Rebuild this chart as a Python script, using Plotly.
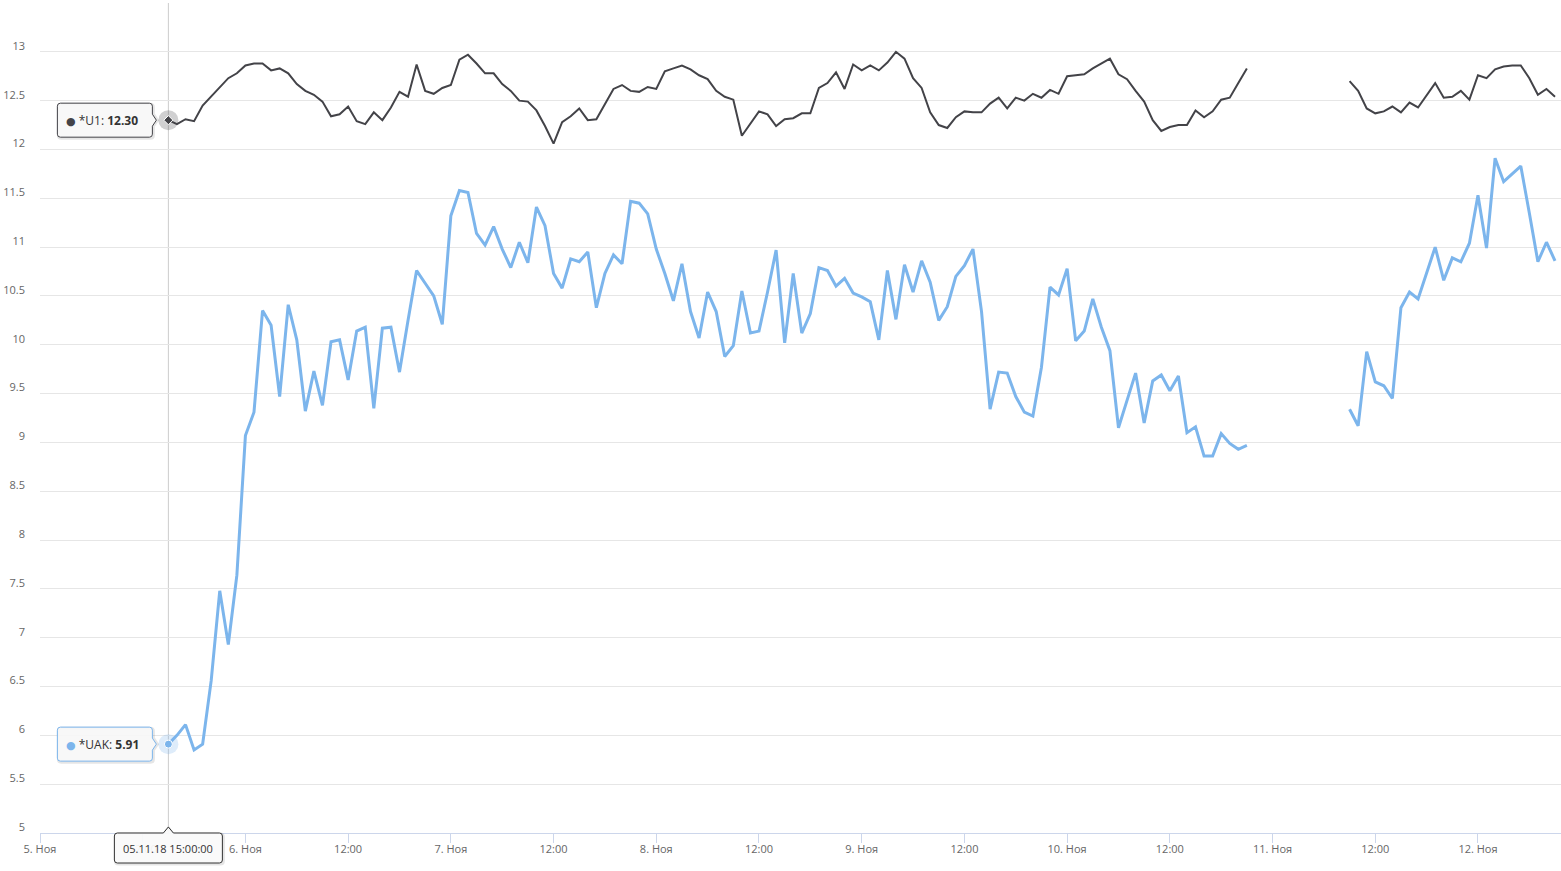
import pandas as pd
import plotly.graph_objects as go

# ---------------- data ----------------
start_time = "2018-11-05 15:00"
n_hours = 163  # hourly readings, 5 Nov 15:00 .. 12 Nov 09:00

u1_values = [
    12.30, 12.26, 12.31, 12.29, 12.45, 12.54, 12.63, 12.73, 12.78, 12.86,
    12.88, 12.88, 12.81, 12.83, 12.78, 12.67, 12.60, 12.56, 12.49, 12.34,
    12.36, 12.44, 12.29, 12.26, 12.38, 12.30, 12.43, 12.59, 12.54, 12.87,
    12.60, 12.57, 12.63, 12.66, 12.92, 12.97, 12.88, 12.78, 12.78, 12.67,
    12.60, 12.50, 12.49, 12.40, 12.24, 12.06, 12.28, 12.34, 12.42, 12.30,
    12.31, 12.46, 12.62, 12.66, 12.60, 12.59, 12.64, 12.62, 12.80, 12.83,
    12.86, 12.82, 12.76, 12.72, 12.60, 12.54, 12.51, 12.14, 12.27, 12.39,
    12.36, 12.24, 12.31, 12.32, 12.37, 12.37, 12.63, 12.68, 12.79, 12.62,
    12.87, 12.81, 12.86, 12.81, 12.89, 13.00, 12.93, 12.73, 12.63, 12.38,
    12.25, 12.22, 12.33, 12.39, 12.38, 12.38, 12.47, 12.53, 12.42, 12.53,
    12.50, 12.57, 12.53, 12.61, 12.57, 12.75, 12.76, 12.77, 12.83, 12.88,
    12.93, 12.77, 12.72, 12.60, 12.49, 12.30, 12.19, 12.23, 12.25, 12.25,
    12.40, 12.33, 12.39, 12.51, 12.53, 12.68, 12.83,
    None, None, None, None, None, None, None, None, None, None, None,
    12.70, 12.60, 12.42, 12.37, 12.39, 12.44, 12.38, 12.48, 12.43, 12.55,
    12.68, 12.53, 12.54, 12.60, 12.51, 12.76, 12.73, 12.82, 12.85, 12.86,
    12.86, 12.73, 12.56, 12.62, 12.54,
]

uak_values = [
    5.91, 6.00, 6.11, 5.85, 5.91, 6.56, 7.48, 6.93, 7.64, 9.07,
    9.31, 10.35, 10.20, 9.47, 10.41, 10.05, 9.32, 9.73, 9.38, 10.03,
    10.05, 9.64, 10.14, 10.18, 9.35, 10.17, 10.18, 9.72, 10.25, 10.76,
    10.63, 10.50, 10.21, 11.32, 11.58, 11.56, 11.14, 11.02, 11.21, 10.98,
    10.79, 11.05, 10.84, 11.41, 11.22, 10.73, 10.58, 10.88, 10.85, 10.95,
    10.38, 10.73, 10.92, 10.83, 11.47, 11.45, 11.34, 10.98, 10.73, 10.45,
    10.83, 10.34, 10.07, 10.54, 10.34, 9.88, 9.99, 10.55, 10.12, 10.14,
    10.54, 10.97, 10.02, 10.73, 10.12, 10.32, 10.79, 10.76, 10.60, 10.68,
    10.53, 10.49, 10.44, 10.05, 10.76, 10.26, 10.82, 10.54, 10.86, 10.64,
    10.25, 10.39, 10.70, 10.81, 10.98, 10.34, 9.34, 9.72, 9.71, 9.47,
    9.31, 9.27, 9.77, 10.59, 10.51, 10.78, 10.04, 10.14, 10.47, 10.18,
    9.94, 9.15, 9.43, 9.71, 9.20, 9.63, 9.69, 9.53, 9.68, 9.10,
    9.16, 8.86, 8.86, 9.09, 8.99, 8.93, 8.97,
    None, None, None, None, None, None, None, None, None, None, None,
    9.34, 9.17, 9.93, 9.62, 9.58, 9.45, 10.38, 10.54, 10.47, 10.74,
    11.00, 10.66, 10.89, 10.85, 11.04, 11.53, 10.99, 11.91, 11.67, 11.75,
    11.83, 11.35, 10.85, 11.05, 10.86,
]

x_tick_values = pd.date_range("2018-11-05 00:00", "2018-11-12 00:00", freq="12h")
x_tick_labels = ["5. Ноя", "12:00", "6. Ноя", "12:00", "7. Ноя", "12:00",
                 "8. Ноя", "12:00", "9. Ноя", "12:00", "10. Ноя", "12:00",
                 "11. Ноя", "12:00", "12. Ноя"]
y_tick_values = [5 + 0.5 * i for i in range(18)]
y_tick_labels = ["5", "5.5", "6", "6.5", "7", "7.5", "8", "8.5", "9", "9.5",
                 "10", "10.5", "11", "11.5", "12", "12.5", "13", ""]

x_range = ["2018-11-05 00:00", "2018-11-12 09:42"]
y_range = [5, 13.5]

hover_index = 0
hover_label = "05.11.18 15:00:00"

# ---------------- styling ----------------
FONT = "Open Sans, sans-serif"
BLUE = "#7cb5ec"
DARK = "#434348"

times = pd.date_range(start_time, periods=n_hours, freq="h")
hx = times[hover_index]

fig = go.Figure()

fig.add_trace(go.Scatter(x=times, y=uak_values, mode="lines", name="*UAK",
                         line=dict(color=BLUE, width=3), connectgaps=False,
                         hoverinfo="skip"))
fig.add_trace(go.Scatter(x=times, y=u1_values, mode="lines", name="*U1",
                         line=dict(color=DARK, width=2), connectgaps=False,
                         hoverinfo="skip"))

# hover halos + markers
fig.add_trace(go.Scatter(x=[hx], y=[uak_values[hover_index]], mode="markers",
                         marker=dict(size=20, color="rgba(124,181,236,0.25)"),
                         hoverinfo="skip"))
fig.add_trace(go.Scatter(x=[hx], y=[uak_values[hover_index]], mode="markers",
                         marker=dict(size=8, color=BLUE,
                                     line=dict(color="white", width=1)),
                         hoverinfo="skip"))
fig.add_trace(go.Scatter(x=[hx], y=[u1_values[hover_index]], mode="markers",
                         marker=dict(size=20, color="rgba(67,67,72,0.25)"),
                         hoverinfo="skip"))
fig.add_trace(go.Scatter(x=[hx], y=[u1_values[hover_index]], mode="markers",
                         marker=dict(size=7, symbol="diamond", color=DARK,
                                     line=dict(color="white", width=1)),
                         hoverinfo="skip"))

shapes = []
# crosshair
shapes.append(dict(type="line", xref="x", yref="paper", x0=hx, x1=hx, y0=0, y1=1,
                   line=dict(color="#cccccc", width=1), layer="below"))


def callout_left(l, r, b, t, tip, r0=3, ah=6):
    # box with arrow on the right side pointing to (tip, 0); pixel coords, y up
    return (f"M {l + r0},{t} L {r - r0},{t} Q {r},{t} {r},{t - r0} "
            f"L {r},{ah} L {tip},0 L {r},{-ah} "
            f"L {r},{b + r0} Q {r},{b} {r - r0},{b} L {l + r0},{b} "
            f"Q {l},{b} {l},{b + r0} L {l},{t - r0} Q {l},{t} {l + r0},{t} Z")


def callout_top(l, r, b, t, tip, r0=3, aw=5):
    return (f"M {l + r0},{t} L {-aw},{t} L 0,{tip} L {aw},{t} L {r - r0},{t} "
            f"Q {r},{t} {r},{t - r0} L {r},{b + r0} Q {r},{b} {r - r0},{b} "
            f"L {l + r0},{b} Q {l},{b} {l},{b + r0} L {l},{t - r0} "
            f"Q {l},{t} {l + r0},{t} Z")


tip_path = callout_left(-111, -16, -17, 17, -12)
for yv, col in [(u1_values[hover_index], DARK), (uak_values[hover_index], BLUE)]:
    shadow = callout_left(-110, -15, -18, 16, -11)
    shapes.append(dict(type="path", xref="x", yref="y", xsizemode="pixel",
                       ysizemode="pixel", xanchor=hx, yanchor=yv, path=shadow,
                       line=dict(color="rgba(0,0,0,0.10)", width=3),
                       fillcolor="rgba(0,0,0,0)", layer="above"))
    shapes.append(dict(type="path", xref="x", yref="y", xsizemode="pixel",
                       ysizemode="pixel", xanchor=hx, yanchor=yv, path=tip_path,
                       line=dict(color=col, width=1),
                       fillcolor="rgba(247,247,247,0.92)", layer="above"))

# x crosshair label box
xl_path = callout_top(-54, 54, -30, 0, 6)
shapes.append(dict(type="path", xref="x", yref="paper", xsizemode="pixel",
                   ysizemode="pixel", xanchor=hx, yanchor=0,
                   path=callout_top(-53, 55, -31, -1, 5),
                   line=dict(color="rgba(0,0,0,0.10)", width=3),
                   fillcolor="rgba(0,0,0,0)", layer="above"))
shapes.append(dict(type="path", xref="x", yref="paper", xsizemode="pixel",
                   ysizemode="pixel", xanchor=hx, yanchor=0, path=xl_path,
                   line=dict(color="#333333", width=1),
                   fillcolor="rgba(250,250,250,0.94)", layer="above"))

BULLET = "<span style='font-family:DejaVu Sans;font-size:11px;color:{c}'>●</span>"
annotations = [
    dict(x=hx, y=u1_values[hover_index], xref="x", yref="y", showarrow=False,
         xanchor="left", yanchor="middle", xshift=-104, yshift=0,
         text=BULLET.format(c=DARK) + " *U1: "
              f"<b>{u1_values[hover_index]:.2f}</b>",
         font=dict(family=FONT, size=12, color="#333333")),
    dict(x=hx, y=uak_values[hover_index], xref="x", yref="y", showarrow=False,
         xanchor="left", yanchor="middle", xshift=-104, yshift=0,
         text=BULLET.format(c=BLUE) + " *UAK: "
              f"<b>{uak_values[hover_index]:.2f}</b>",
         font=dict(family=FONT, size=12, color="#333333")),
    dict(x=hx, y=0, xref="x", yref="paper", showarrow=False,
         xanchor="center", yanchor="middle", yshift=-15,
         text=hover_label, font=dict(family=FONT, size=11, color="#333333")),
]

fig.update_layout(
    width=1561, height=871,
    margin=dict(l=40, r=0, t=3, b=38, pad=0),
    paper_bgcolor="white", plot_bgcolor="white",
    showlegend=False,
    font=dict(family=FONT, size=11, color="#666666"),
    shapes=shapes, annotations=annotations,
    xaxis=dict(type="date", range=x_range, tickvals=x_tick_values,
               ticktext=x_tick_labels, showgrid=False, zeroline=False,
               showline=True, linecolor="#ccd6eb", linewidth=1,
               ticks="outside", ticklen=9, tickcolor="#ccd6eb",
               ticklabelstandoff=-3,
               tickfont=dict(family=FONT, size=11, color="#666666")),
    yaxis=dict(range=y_range, tickvals=y_tick_values, ticktext=y_tick_labels,
               showgrid=True, gridcolor="#e6e6e6", gridwidth=1,
               zeroline=False, showline=False, ticks="",
               ticklabelstandoff=14, ticklabelshift=-6,
               tickfont=dict(family=FONT, size=11, color="#666666")),
)

fig.write_html("out.html",
               config={"displayModeBar": False},
               post_script="document.body.style.margin='0';"
                           "document.body.style.padding='0';")
